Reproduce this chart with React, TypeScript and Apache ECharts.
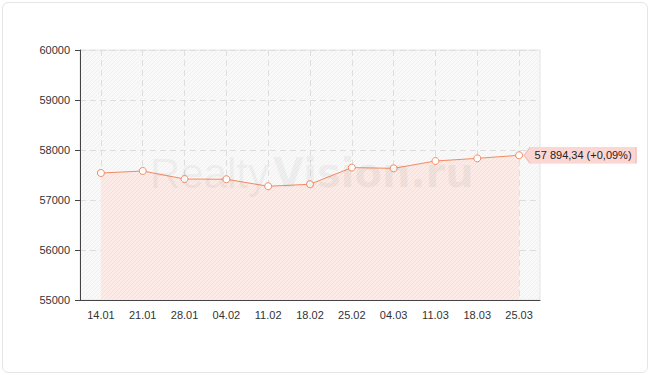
import React, { useEffect, useRef } from "react";
import * as echarts from "echarts";

const categories = ["14.01", "21.01", "28.01", "04.02", "11.02", "18.02", "25.02", "04.03", "11.03", "18.03", "25.03"];
const values = [57540, 57580, 57420, 57415, 57275, 57315, 57648, 57633, 57780, 57833, 57894.34];
const yTicks = { min: 55000, max: 60000, interval: 1000 };
const lastLabel = "57 894,34 (+0,09%)";

function makePattern(bg: string, fg: string) {
  const c = document.createElement("canvas");
  c.width = 4;
  c.height = 4;
  const ctx = c.getContext("2d")!;
  ctx.fillStyle = bg;
  ctx.fillRect(0, 0, 4, 4);
  ctx.fillStyle = fg;
  for (let i = 0; i < 4; i++) {
    ctx.fillRect(3 - i, i, 1, 1);
  }
  return { image: c, repeat: "repeat" } as any;
}

export default function App() {
  const ref = useRef<HTMLDivElement>(null);
  useEffect(() => {
    document.body.style.margin = "0";
    const chart = echarts.init(ref.current!, undefined, { renderer: "svg" });
    const font = "Liberation Sans";
    const lastIdx = values.length - 1;
    const wm = "rgba(90,90,90,0.075)";
    chart.setOption({
      animation: false,
      textStyle: { fontFamily: font },
      grid: {
        left: 80,
        top: 50,
        width: 460,
        height: 250,
        show: true,
        backgroundColor: makePattern("#f9f9f9", "#f0f0f0"),
        borderColor: "#e3e3e3",
        borderWidth: 1,
      },
      graphic: [
        {
          type: "text",
          x: 269,
          y: 173,
          z: 100,
          silent: true,
          style: {
            text: "Realty",
            font: "normal 42px 'Liberation Sans'",
            fill: wm,
            align: "right",
            verticalAlign: "middle",
          },
        },
        {
          type: "text",
          x: 273,
          y: 173,
          z: 100,
          silent: true,
          style: {
            text: "Vision.ru",
            font: "bold 40px 'DejaVu Sans'",
            fill: wm,
            align: "left",
            verticalAlign: "middle",
          },
        },
      ],
      xAxis: {
        type: "category",
        data: categories,
        boundaryGap: true,
        axisLine: { lineStyle: { color: "#444", width: 1 } },
        axisTick: { alignWithLabel: true, length: 5, lineStyle: { color: "#444" } },
        axisLabel: { color: "#333", fontSize: 11, margin: 9, fontFamily: font },
        splitLine: {
          show: true,
          alignWithLabel: true,
          lineStyle: { color: "#dedede", type: [6, 4], width: 1 },
        },
      },
      yAxis: {
        type: "value",
        min: yTicks.min,
        max: yTicks.max,
        interval: yTicks.interval,
        axisLine: { show: true, lineStyle: { color: "#444", width: 1 } },
        axisTick: { show: true, length: 5, lineStyle: { color: "#444" } },
        axisLabel: {
          color: "#333",
          fontSize: 11,
          margin: 10,
          fontFamily: font,
          formatter: (v: number) => String(v),
        },
        splitLine: { show: true, lineStyle: { color: "#dedede", type: [6, 4], width: 1 } },
      },
      series: [
        {
          type: "line",
          data: values,
          z: 3,
          lineStyle: { color: "#f28a62", width: 1 },
          itemStyle: { color: "#fff", borderColor: "#f28a62", borderWidth: 1 },
          symbol: "circle",
          symbolSize: 7,
          showAllSymbol: true,
          areaStyle: { color: makePattern("#fcebe6", "#f7ddd5"), opacity: 1 },
          markPoint: {
            symbol: "path://M0,8 L6,0 L112,0 L112,16 L6,16 Z",
            symbolSize: [112, 16],
            symbolKeepAspect: false,
            symbolOffset: [61, 0],
            itemStyle: { color: "#fcd6d3", borderColor: "#f2bcb8", borderWidth: 0.5 },
            label: {
              show: true,
              position: "inside",
              offset: [3, 0],
              color: "#222",
              fontSize: 11,
              fontFamily: font,
              formatter: () => lastLabel,
            },
            data: [{ coord: [categories[lastIdx], values[lastIdx]] }],
          },
        },
      ],
    });
    return () => chart.dispose();
  }, []);
  return (
    <div style={{ position: "absolute", left: 0, top: 0, width: 650, height: 375, background: "#fff" }}>
      <div
        style={{
          position: "absolute",
          left: 2,
          top: 2,
          width: 646,
          height: 371,
          boxSizing: "border-box",
          border: "1px solid #e6e6e6",
          borderRadius: 6,
        }}
      />
      <div ref={ref} style={{ position: "absolute", left: 0, top: 0, width: 650, height: 375 }} />
    </div>
  );
}
